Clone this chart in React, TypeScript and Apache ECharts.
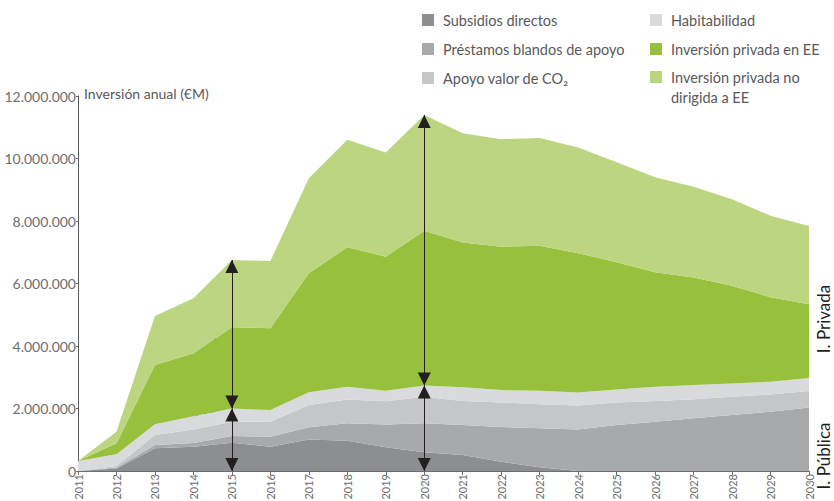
import React, { useEffect, useRef } from "react";
import * as echarts from "echarts";

const years = ["2011", "2012", "2013", "2014", "2015", "2016", "2017", "2018", "2019", "2020", "2021", "2022", "2023", "2024", "2025", "2026", "2027", "2028", "2029", "2030"];
const subsidios = [0, 80000, 726000, 780000, 907000, 778000, 1010000, 970000, 757000, 600000, 512000, 299000, 117000, 0, 0, 0, 0, 0, 0, 0];
const prestamos = [0, 30000, 106000, 120000, 213000, 322000, 390000, 560000, 733000, 930000, 958000, 1111000, 1253000, 1330000, 1470000, 1580000, 1690000, 1790000, 1900000, 2030000];
const co2 = [0, 50000, 318000, 430000, 460000, 480000, 710000, 760000, 740000, 850000, 770000, 780000, 770000, 770000, 720000, 660000, 610000, 590000, 550000, 530000];
const habitabilidad = [320000, 374000, 350000, 420000, 420000, 370000, 410000, 410000, 340000, 360000, 440000, 400000, 430000, 410000, 420000, 460000, 450000, 420000, 410000, 420000];
const privadaEE = [0, 352000, 1890000, 2020000, 2600000, 2620000, 3810000, 4460000, 4290000, 4950000, 4630000, 4590000, 4640000, 4460000, 4070000, 3660000, 3440000, 3130000, 2700000, 2360000];
const privadaNoEE = [0, 374000, 1570000, 1760000, 2150000, 2150000, 3040000, 3440000, 3330000, 3700000, 3500000, 3440000, 3450000, 3380000, 3200000, 3040000, 2910000, 2770000, 2610000, 2500000];

const seriesNames = ["Subsidios directos", "Préstamos blandos de apoyo", "Apoyo valor de CO₂", "Habitabilidad", "Inversión privada en EE", "Inversión privada no dirigida a EE"];
const seriesColors = ["#8d8e90", "#a8a9ab", "#c5c6c8", "#d9dadc", "#97c13d", "#bcd581"];
const yTicks = { min: 0, max: 12000000, interval: 2000000 };
const arrowYears = ["2015", "2020"];

const FONT = "Lato";
const TXT = "#231f20";

function fmt(v: number) {
  return String(v).replace(/\B(?=(\d{3})+(?!\d))/g, ".");
}

export default function App() {
  const ref = useRef<HTMLDivElement>(null);
  useEffect(() => {
    const chart = echarts.init(ref.current!, null, { renderer: "svg" });
    const layers = [subsidios, prestamos, co2, habitabilidad, privadaEE, privadaNoEE];
    const publicTop = (i: number) => subsidios[i] + prestamos[i] + co2[i] + habitabilidad[i];
    const totalTop = (i: number) => publicTop(i) + privadaEE[i] + privadaNoEE[i];
    const markData: any[] = [];
    arrowYears.forEach((y) => {
      const i = years.indexOf(y);
      markData.push([{ coord: [y, 0] }, { coord: [y, publicTop(i)] }]);
      markData.push([{ coord: [y, publicTop(i)] }, { coord: [y, totalTop(i)] }]);
    });
    const legendText = { fontSize: 14.5, color: "#58595b", fontFamily: FONT, lineHeight: 18, padding: [0, 0, 0, 4] };
    const option: any = {
      animation: false,
      textStyle: { fontFamily: FONT },
      grid: { left: 78, right: 25, top: 96, bottom: 30, outerBoundsMode: "none" },
      legend: [
        { orient: "vertical", left: 422, top: 11, padding: 0, itemWidth: 12, itemHeight: 12, itemGap: 11, icon: "rect", data: seriesNames.slice(0, 3), textStyle: legendText, selectedMode: false },
        { orient: "vertical", left: 650, top: 11, padding: 0, itemWidth: 12, itemHeight: 12, itemGap: 11, icon: "rect", data: seriesNames.slice(3, 5), textStyle: legendText, selectedMode: false },
        {
          orient: "vertical", left: 650, top: 47, padding: 0, itemWidth: 12, itemHeight: 12, icon: "rect", selectedMode: false,
          data: [seriesNames[5]],
          formatter: () => " \nInversión privada no\ndirigida a EE",
          textStyle: { ...legendText, lineHeight: 20 },
        },
      ],
      xAxis: {
        type: "category",
        data: years,
        boundaryGap: false,
        axisLine: { lineStyle: { color: "#6d6e70", width: 1 } },
        axisTick: { show: true, length: 4, lineStyle: { color: "#6d6e70" } },
        axisLabel: { rotate: 90, fontSize: 11, color: "#6d6e70", margin: 3, fontFamily: FONT },
      },
      yAxis: {
        type: "value",
        min: yTicks.min,
        max: yTicks.max,
        interval: yTicks.interval,
        splitLine: { show: false },
        axisLine: { show: true, lineStyle: { color: "#58595b", width: 1 } },
        axisTick: { show: true, length: 2, lineStyle: { color: "#6d6e70" } },
        axisLabel: { formatter: (v: number) => fmt(v), fontSize: 14, color: "#6d6e70", margin: 2, fontFamily: FONT },
      },
      series: [
        ...layers.map((d, k) => ({
          name: seriesNames[k],
          type: "line",
          stack: "total",
          data: d,
          symbol: "none",
          lineStyle: { width: 0 },
          itemStyle: { color: seriesColors[k] },
          areaStyle: { color: seriesColors[k], opacity: 1 },
          z: 2,
        })),
        {
          name: "annot",
          type: "line",
          data: [],
          silent: true,
          z: 5,
          markLine: {
            silent: true,
            animation: false,
            symbol: ["triangle", "triangle"],
            symbolSize: 13,
            symbolOffset: [[0, 6.5], [0, 6.5]],
            lineStyle: { color: TXT, width: 1, type: "solid" },
            label: { show: false },
            emphasis: { disabled: true },
            data: markData,
          },
        },
      ],
      graphic: [
        { type: "text", left: 84, top: 86, style: { text: "Inversión anual (€M)", fontSize: 14, fill: "#58595b", fontFamily: FONT } },
        { type: "text", x: 205, y: 334, style: { text: "3,9€", fontSize: 15, fill: TXT, fontFamily: FONT, align: "center", verticalAlign: "middle" } },
        { type: "text", x: 207, y: 411, style: { text: "1,8€", fontSize: 15, fill: TXT, fontFamily: FONT, align: "center", verticalAlign: "middle" } },
        { type: "text", x: 405, y: 263, style: { text: "9€", fontSize: 15, fill: TXT, fontFamily: FONT, align: "center", verticalAlign: "middle" } },
        { type: "text", x: 402, y: 431, style: { text: "2,7€", fontSize: 15, fill: TXT, fontFamily: FONT, align: "center", verticalAlign: "middle" } },
        {
          type: "text", x: 344, y: 318,
          style: { text: "{a|x }{b|3,2}", fill: TXT, fontFamily: FONT, align: "center", verticalAlign: "middle",
            rich: { a: { fontSize: 14, fill: TXT, fontFamily: FONT, padding: [6, 0, 0, 0] }, b: { fontSize: 25, fill: TXT, fontFamily: FONT } } },
        },
        { type: "line", shape: { x1: 573, y1: 389, x2: 586, y2: 389 }, style: { stroke: "#3a3a3a", lineWidth: 1.5 } },
        { type: "text", x: 823, y: 319, rotation: Math.PI / 2, style: { text: "I. Privada", fontSize: 17, fill: TXT, fontFamily: FONT, align: "center", verticalAlign: "middle" } },
        { type: "text", x: 823, y: 456, rotation: Math.PI / 2, style: { text: "I. Pública", fontSize: 17, fill: TXT, fontFamily: FONT, align: "center", verticalAlign: "middle" } },
      ],
    };
    chart.setOption(option);
    return () => chart.dispose();
  }, []);
  return <div ref={ref} style={{ position: "fixed", left: 0, top: 0, width: 834, height: 501, background: "#fff" }} />;
}
